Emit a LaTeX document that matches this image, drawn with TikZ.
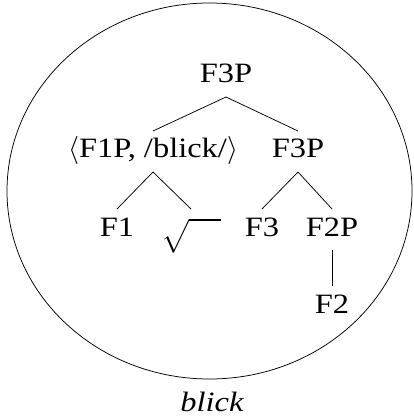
\documentclass[tikz,border=0pt]{standalone}
\usepackage{unicode-math}
\setmainfont{Liberation Serif}[FakeStretch=1.16]
\setmathfont{Latin Modern Math}
\begin{document}
\begin{tikzpicture}[x=1pt,y=-1pt,
  tn/.style={font=\fontsize{28}{33}\selectfont, anchor=base, inner sep=0pt, outer sep=0pt,
             text height=27pt, text depth=14pt},
  br/.style={line width=0.75pt}]
\useasboundingbox (0,0) rectangle (413,419);
\draw[line width=0.75pt] (209.5,191) ellipse [x radius=202.5, y radius=188];
\node[tn] (root) at (226,83) {F3P};
\node[tn] (pair) at (153,158) {$\langle$F1P, /blick/$\rangle$};
\node[tn] (f3p) at (298,158) {F3P};
\node[tn] (f1) at (117,236) {F1};
\node[tn] (rt) at (191,236) {$\sqrt{\vrule height 12pt depth 15pt width 0pt\hspace{32pt}}$};
\node[tn] (f3) at (262,236) {F3};
\node[tn] (f2p) at (332,236) {F2P};
\node[tn] (f2) at (332,313) {F2};
\node[tn, text height=18pt, text depth=6pt] (bl) at (212,411) {\itshape blick};
\draw[br] (root.south) -- (pair.north);
\draw[br] (root.south) -- (f3p.north);
\draw[br] (pair.south) -- (f1.north);
\draw[br] (pair.south) -- (rt.north);
\draw[br] (f3p.south) -- (f3.north);
\draw[br] (f3p.south) -- (f2p.north);
\draw[br] (f2p.south) -- (f2.north);
\end{tikzpicture}
\end{document}
